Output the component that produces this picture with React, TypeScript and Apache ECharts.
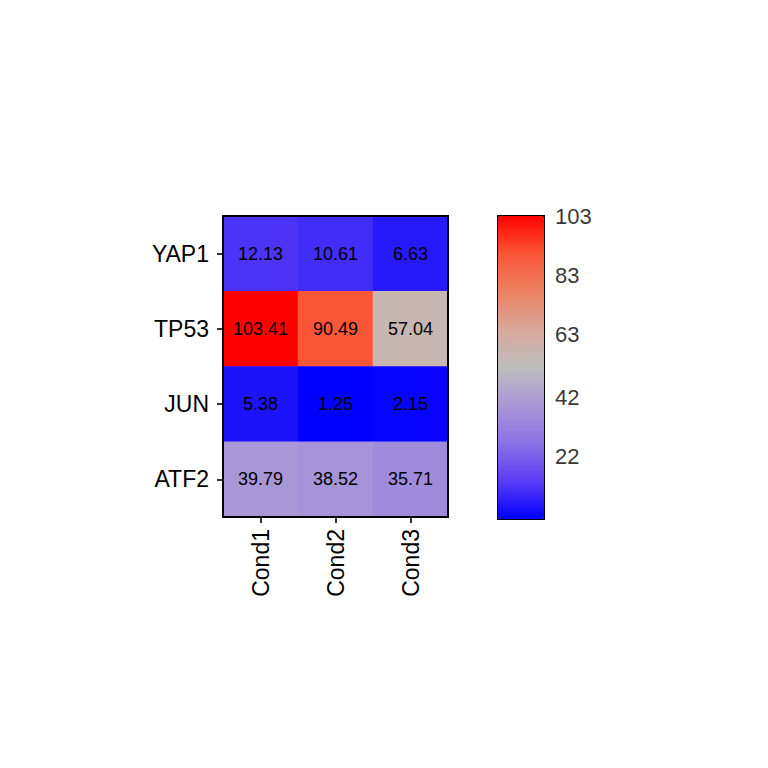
import { useEffect, useRef } from "react";
import * as echarts from "echarts";

const conditions = ["Cond1", "Cond2", "Cond3"];
const genes = ["ATF2", "JUN", "TP53", "YAP1"]; // bottom to top
const values: number[][] = [
  // [cond, gene, value]
  [0, 3, 12.13], [1, 3, 10.61], [2, 3, 6.63],
  [0, 2, 103.41], [1, 2, 90.49], [2, 2, 57.04],
  [0, 1, 5.38], [1, 1, 1.25], [2, 1, 2.15],
  [0, 0, 39.79], [1, 0, 38.52], [2, 0, 35.71],
];
const scaleMin = 1.25;
const scaleMax = 103.41;
const colorTicks = [22, 42, 63, 83, 103];
const palette = ["#0000FF", "#5A3CF4", "#8A72E6", "#A896D6", "#BEBEBE", "#D8A89A", "#EC8262", "#FA5538", "#FF0000"];
const FONT = "Liberation Sans, Arial, sans-serif";

export default function App() {
  const ref = useRef<HTMLDivElement>(null);

  useEffect(() => {
    if (!ref.current) return;
    const chart = echarts.init(ref.current, undefined, { renderer: "svg" });
    chart.setOption({
      animation: false,
      backgroundColor: "#fff",
      textStyle: { fontFamily: FONT },
      grid: [
        { left: 223, top: 216, width: 225, height: 301, show: true, borderColor: "#000", borderWidth: 2, z: 10, backgroundColor: "transparent" },
        { left: 497, top: 215, width: 46, height: 303 },
      ],
      xAxis: [
        {
          gridIndex: 0, type: "category", data: conditions,
          axisLine: { show: false },
          axisTick: { show: true, length: 6, alignWithLabel: true, lineStyle: { color: "#333", width: 2 } },
          axisLabel: { rotate: 90, color: "#000", fontSize: 23, margin: 12, fontFamily: FONT },
        },
        { gridIndex: 1, type: "value", min: 0, max: 1, show: false },
      ],
      yAxis: [
        {
          gridIndex: 0, type: "category", data: genes,
          axisLine: { show: false },
          axisTick: { show: true, length: 6, alignWithLabel: true, lineStyle: { color: "#333", width: 2 } },
          axisLabel: { color: "#000", fontSize: 23, margin: 14, fontFamily: FONT },
        },
        { gridIndex: 1, type: "value", min: scaleMin, max: scaleMax, show: false },
      ],
      visualMap: {
        type: "continuous",
        seriesIndex: 0,
        min: scaleMin,
        max: scaleMax,
        calculable: false,
        showLabel: false,
        text: ["", ""],
        left: 497,
        top: 215,
        itemWidth: 46,
        itemHeight: 303,
        padding: 0,
        borderColor: "#000",
        borderWidth: 2,
        inRange: { color: palette },
      },
      series: [
        {
          type: "heatmap",
          xAxisIndex: 0,
          yAxisIndex: 0,
          data: values,
          label: {
            show: true,
            color: "#000",
            fontSize: 18,
            fontFamily: FONT,
            formatter: (p: any) => p.value[2].toFixed(2),
          },
        },
        {
          type: "scatter",
          xAxisIndex: 1,
          yAxisIndex: 1,
          symbolSize: 0,
          data: colorTicks.map((t) => [1, t]),
          label: {
            show: true,
            position: "right",
            distance: 12,
            color: "#000",
            fontSize: 22,
            fontFamily: FONT,
            formatter: (p: any) => String(p.value[1]),
          },
        },
      ],
    });
    return () => chart.dispose();
  }, []);

  return <div ref={ref} style={{ position: "fixed", left: 0, top: 0, width: 768, height: 768 }} />;
}
